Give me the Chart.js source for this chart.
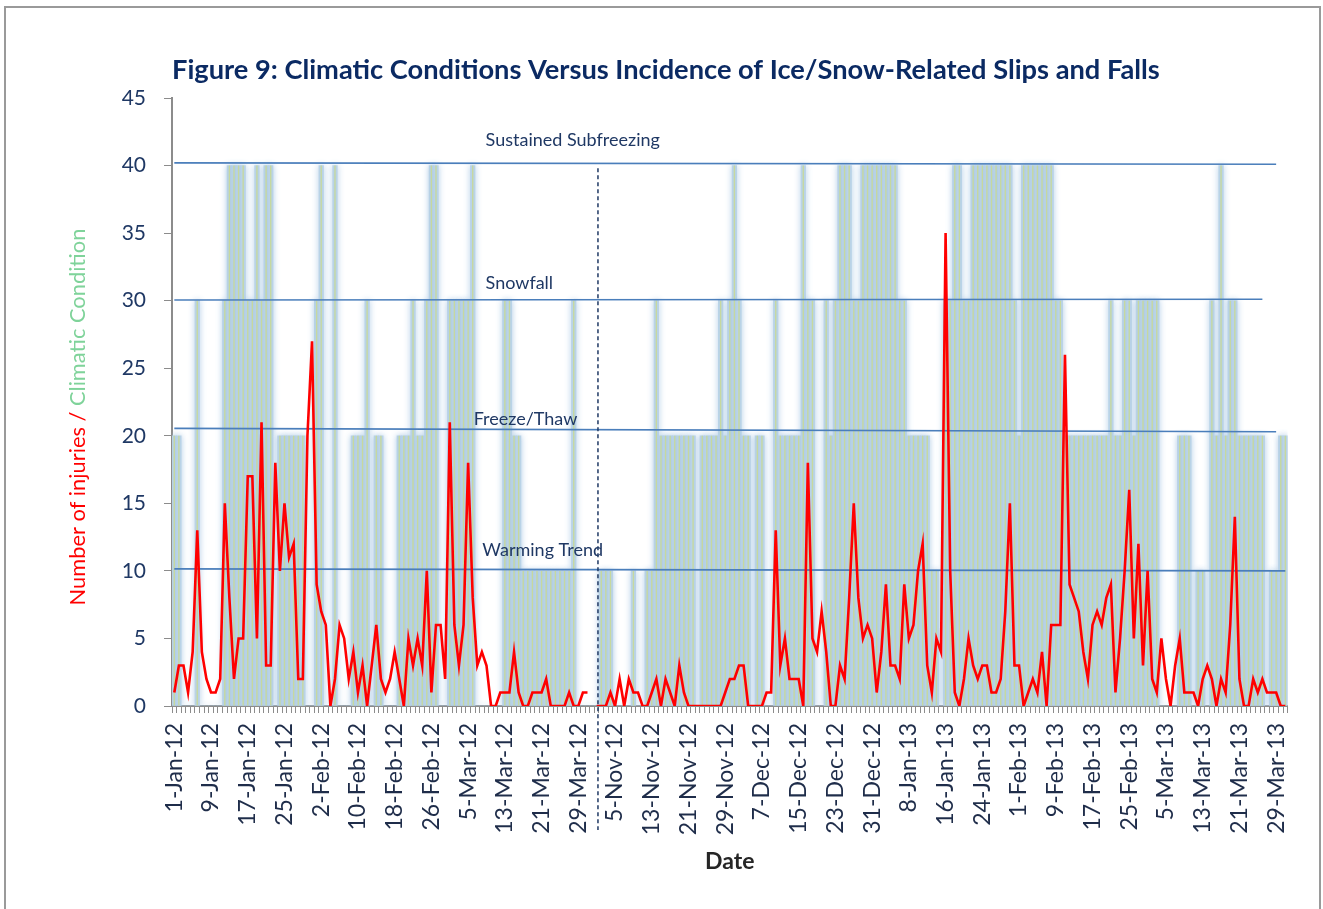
<!DOCTYPE html>
<html>
<head>
<meta charset="utf-8">
<script src="https://cdn.jsdelivr.net/npm/chart.js@4.4.1/dist/chart.umd.min.js"></script>
<style>
  html, body { margin: 0; padding: 0; background: #fff; }
  #wrap { width: 1323px; height: 909px; }
</style>
</head>
<body>
<div id="wrap"><canvas id="chart" width="1323" height="909"></canvas></div>
<script>
const d = document;

// two winters, with one blank row in between
const seasons = [
  ["2012-01-01", "2012-03-31"],
  ["2012-11-01", "2013-03-31"],
];
const tickEvery = 8;
const yTicks = [0, 5, 10, 15, 20, 25, 30, 35, 40, 45];

// number of injuries per day (null = blank row)
const injuries = [
  1, 3, 3, 1, 4, 13, 4, 2, 1, 1,
  2, 15, 8, 2, 5, 5, 17, 17, 5, 21,
  3, 3, 18, 10, 15, 11, 12, 2, 2, 20,
  27, 9, 7, 6, 0, 2, 6, 5, 2, 4,
  1, 3, 0, 3, 6, 2, 1, 2, 4, 2,
  0, 5, 3, 5, 3, 10, 1, 6, 6, 2,
  21, 6, 3, 6, 18, 8, 3, 4, 3, 0,
  0, 1, 1, 1, 4, 1, 0, 0, 1, 1,
  1, 2, 0, 0, 0, 0, 1, 0, 0, 1,
  1, null, 0, 0, 0, 1, 0, 2, 0, 2,
  1, 1, 0, 0, 1, 2, 0, 2, 1, 0,
  3, 1, 0, 0, 0, 0, 0, 0, 0, 0,
  1, 2, 2, 3, 3, 0, 0, 0, 0, 1,
  1, 13, 3, 5, 2, 2, 2, 0, 18, 5,
  4, 7, 4, 0, 0, 3, 2, 8, 15, 8,
  5, 6, 5, 1, 4, 9, 3, 3, 2, 9,
  5, 6, 10, 12, 3, 1, 5, 4, 35, 10,
  1, 0, 2, 5, 3, 2, 3, 3, 1, 1,
  2, 7, 15, 3, 3, 0, 1, 2, 1, 4,
  0, 6, 6, 6, 26, 9, 8, 7, 4, 2,
  6, 7, 6, 8, 9, 1, 5, 10, 16, 5,
  12, 3, 10, 2, 1, 5, 2, 0, 3, 5,
  1, 1, 1, 0, 2, 3, 2, 0, 2, 1,
  6, 14, 2, 0, 0, 2, 1, 2, 1, 1,
  1, 0, 0,
];

// climatic condition per day: 10 warming, 20 freeze/thaw, 30 snowfall, 40 subfreezing
const climate = [
  20, 20, 0, 0, 0, 30, 0, 0, 0, 0,
  0, 30, 40, 40, 40, 40, 30, 30, 40, 30,
  40, 40, 0, 20, 20, 20, 20, 20, 20, 0,
  0, 30, 40, 0, 0, 40, 0, 0, 0, 20,
  20, 20, 30, 0, 20, 20, 0, 0, 0, 20,
  20, 20, 30, 20, 20, 30, 40, 40, 0, 0,
  30, 30, 30, 30, 30, 40, 0, 0, 0, 0,
  0, 0, 30, 30, 20, 20, 10, 10, 10, 10,
  10, 10, 10, 10, 10, 10, 10, 30, 0, 0,
  0, 0, 0, 10, 10, 10, 0, 0, 0, 0,
  10, 0, 0, 10, 10, 30, 20, 20, 20, 20,
  20, 20, 20, 20, 0, 20, 20, 20, 20, 30,
  20, 30, 40, 30, 20, 20, 0, 20, 20, 0,
  0, 30, 20, 20, 20, 20, 20, 40, 30, 30,
  0, 0, 30, 20, 30, 40, 40, 40, 30, 30,
  40, 40, 40, 40, 40, 40, 40, 40, 30, 30,
  20, 20, 20, 20, 20, 10, 10, 0, 30, 30,
  40, 40, 30, 30, 40, 40, 40, 40, 40, 40,
  40, 40, 40, 30, 20, 40, 40, 40, 40, 40,
  40, 40, 30, 30, 20, 20, 20, 20, 20, 20,
  20, 20, 20, 20, 30, 20, 20, 30, 30, 20,
  30, 30, 30, 30, 30, 0, 0, 0, 0, 20,
  20, 20, 0, 10, 10, 0, 30, 20, 40, 20,
  30, 30, 20, 20, 20, 20, 20, 20, 0, 10,
  10, 20, 20,
];

// hand drawn level lines: label, first/last day index, level at each end
const levelNames = ["Sustained Subfreezing", "Snowfall", "Freeze/Thaw", "Warming Trend"];
const levelSpan = [[0, 240], [0, 237], [0, 240], [0, 242]];
const levelValues = [[40.2, 40.1], [30.05, 30.1], [20.55, 20.3], [10.15, 10.0]];

const months = ["Jan", "Feb", "Mar", "Apr", "May", "Jun", "Jul", "Aug", "Sep", "Oct", "Nov", "Dec"];
const days = [];
seasons.forEach(([a, b], k) => {
  if (k > 0) days.push(" ");
  const end = new Date(b + "T00:00:00Z");
  for (let t = new Date(a + "T00:00:00Z"); t <= end; t.setUTCDate(t.getUTCDate() + 1)) {
    days.push(`${t.getUTCDate()}-${months[t.getUTCMonth()]}-${String(t.getUTCFullYear()).slice(2)}`);
  }
});

const levelData = (i) => {
  const arr = days.map(() => null);
  arr[levelSpan[i][0]] = levelValues[i][0];
  arr[levelSpan[i][1]] = levelValues[i][1];
  return arr;
};

const FONT = "Lato, 'Open Sans', sans-serif";

const fitFont = (ctx, text, weight, width) => {
  ctx.font = `${weight} 20px ${FONT}`;
  const size = (20 * width) / ctx.measureText(text).width;
  ctx.font = `${weight} ${size.toFixed(2)}px ${FONT}`;
};

const decor = {
  id: "decor",
  beforeDraw(chart) {
    const { ctx } = chart;
    ctx.save();
    ctx.fillStyle = "#fff";
    ctx.fillRect(0, 0, chart.width, chart.height);
    ctx.strokeStyle = "#9a9a9a";
    ctx.lineWidth = 2;
    ctx.strokeRect(5, 7, 1315, 920);
    ctx.restore();
  },
  // soft glow round the condition bars
  beforeDatasetDraw(chart, args) {
    if (args.index !== 0) return;
    const { ctx } = chart;
    ctx.save();
    ctx.shadowColor = "rgba(168, 200, 228, 0.9)";
    ctx.shadowBlur = 6;
  },
  afterDatasetDraw(chart, args) {
    if (args.index === 0) chart.ctx.restore();
  },
  afterDraw(chart) {
    const { ctx, chartArea: area, scales } = chart;
    const x = scales.x, y = scales.y;
    ctx.save();

    // title
    const title = "Figure 9: Climatic Conditions Versus Incidence of Ice/Snow-Related Slips and Falls";
    fitFont(ctx, title, "bold", 988);
    ctx.fillStyle = "#0b2a63";
    ctx.textAlign = "left";
    ctx.textBaseline = "middle";
    ctx.fillText(title, area.left, 70);

    // level labels
    const notes = [[67.8, 41.85], [67.8, 31.33], [65.2, 21.26], [67.1, 11.56]];
    ctx.font = `18px ${FONT}`;
    ctx.fillStyle = "#1f3864";
    levelNames.forEach((name, i) => {
      const px = x.getPixelForValue(Math.floor(notes[i][0])) +
        (notes[i][0] % 1) * (x.getPixelForValue(1) - x.getPixelForValue(0));
      ctx.fillText(name, px, y.getPixelForValue(notes[i][1]));
    });

    // season divider
    const gx = (x.getPixelForValue(92) + x.getPixelForValue(93)) / 2 - 1;
    ctx.strokeStyle = "#1f3864";
    ctx.lineWidth = 1.5;
    ctx.setLineDash([4, 3]);
    ctx.beginPath();
    ctx.moveTo(gx, y.getPixelForValue(39.8));
    ctx.lineTo(gx, area.bottom + 124);
    ctx.stroke();
    ctx.setLineDash([]);

    // x title
    ctx.font = `bold 23px ${FONT}`;
    ctx.fillStyle = "#262626";
    ctx.textAlign = "center";
    ctx.fillText("Date", (area.left + area.right) / 2, 862);

    // y title, two colours
    const partA = "Number of injuries / ", partB = "Climatic Condition";
    fitFont(ctx, partA + partB, "normal", 377);
    const wa = ctx.measureText(partA).width, wb = ctx.measureText(partB).width;
    ctx.translate(78, 417);
    ctx.rotate(-Math.PI / 2);
    ctx.textAlign = "left";
    ctx.fillStyle = "#ff0000";
    ctx.fillText(partA, -(wa + wb) / 2, 0);
    ctx.fillStyle = "#7fd39a";
    ctx.fillText(partB, -(wa + wb) / 2 + wa, 0);
    ctx.restore();
  },
};

function drawChart(canvas) {
  const ctx = d.getElementById(canvas).getContext("2d");
  const levelSets = levelNames.map((name, i) => ({
    type: "line",
    label: name,
    data: levelData(i),
    borderColor: "#4a7ebb",
    borderWidth: 1.6,
    pointRadius: 0,
    spanGaps: true,
    order: 1,
  }));
  return new Chart(ctx, {
    type: "bar",
    data: {
      labels: days,
      datasets: [
        {
          label: "Climatic Condition",
          data: climate,
          backgroundColor: "#b9d3e7",
          barPercentage: 1,
          categoryPercentage: 1,
          grouped: false,
          order: 4,
        },
        {
          label: "Climatic Condition edge",
          data: climate,
          backgroundColor: "#c6d89f",
          barPercentage: 0.3,
          categoryPercentage: 1,
          grouped: false,
          order: 3,
        },
        ...levelSets,
        {
          type: "line",
          label: "Number of injuries",
          data: injuries,
          borderColor: "#ff0000",
          borderWidth: 2.6,
          pointRadius: 0,
          tension: 0,
          spanGaps: false,
          order: 0,
        },
      ],
    },
    options: {
      responsive: false,
      animation: false,
      events: [],
      layout: { padding: { top: 98, right: 33, bottom: 0, left: 0 } },
      plugins: { legend: { display: false }, tooltip: { enabled: false }, title: { display: false } },
      scales: {
        x: {
          afterFit: (s) => { s.height = 203; },
          grid: { drawOnChartArea: false, tickLength: 7, color: "#8c8c8c" },
          border: { color: "#8c8c8c", width: 2 },
          ticks: {
            autoSkip: false,
            minRotation: 90,
            maxRotation: 90,
            padding: 10,
            color: "#1f2d4a",
            font: { family: FONT, size: 23 },
            callback: (v, i) => (i % tickEvery === 0 ? days[i] : ""),
          },
        },
        y: {
          min: yTicks[0],
          max: yTicks[yTicks.length - 1],
          afterFit: (s) => { s.width = 172; },
          afterBuildTicks: (s) => { s.ticks = yTicks.map((v) => ({ value: v })); },
          grid: { drawOnChartArea: false, tickLength: 8, color: "#8c8c8c" },
          border: { color: "#8c8c8c", width: 2 },
          ticks: { padding: 18, color: "#1f3864", font: { family: FONT, size: 21 } },
        },
      },
    },
    plugins: [decor],
  });
}

drawChart("chart");
</script>
</body>
</html>
